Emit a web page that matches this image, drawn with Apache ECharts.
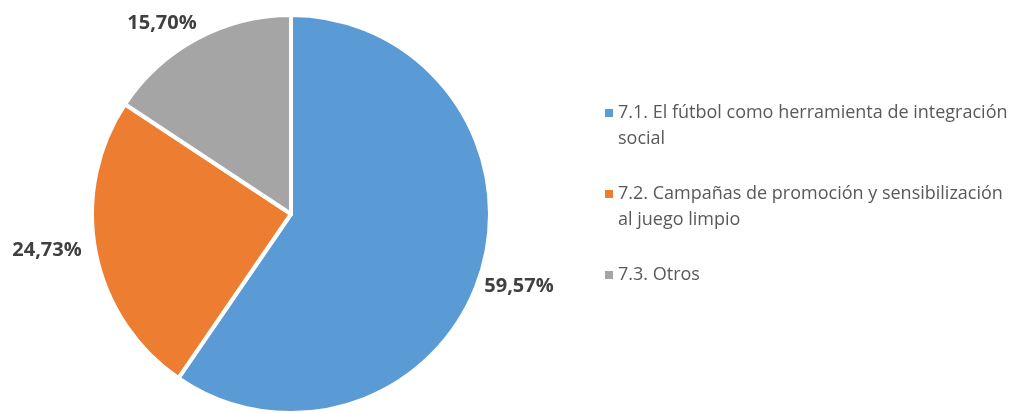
<!DOCTYPE html>
<html><head><meta charset="utf-8">
<script src="https://cdn.jsdelivr.net/npm/echarts@6/dist/echarts.min.js"></script>
<style>html,body{margin:0;padding:0;background:#fff}#c{width:1022px;height:412px}</style>
</head><body><div id="c"></div>
<script>
var categories = [
  '7.1. El fútbol como herramienta de integración social',
  '7.2. Campañas de promoción y sensibilización al juego limpio',
  '7.3. Otros'
];
var legendText = [
  '7.1. El fútbol como herramienta de integración\nsocial',
  '7.2. Campañas de promoción y sensibilización\nal juego limpio',
  '7.3. Otros'
];
var values = [59.57, 24.73, 15.70];
var labels = ['59,57%', '24,73%', '15,70%'];
var colors = ['#5B9BD5', '#ED7D31', '#A5A5A5'];

var labelPos = [
  {x: 519, y: 286},
  {x: 47, y: 250},
  {x: 162, y: 23}
];

function legendFmt(name) { return legendText[categories.indexOf(name)]; }
var legendTextStyle = {
  color: '#595959',
  fontSize: 18,
  fontFamily: 'Open Sans',
  lineHeight: 26
};
// square icon aligned with the first line of a two-line legend entry
var topSquareIcon = 'path://M0,0L0.001,0Z M0,9L8,9L8,17L0,17Z M0,52L0.001,52Z';

var chart = echarts.init(document.getElementById('c'));
chart.setOption({
  animation: false,
  color: colors,
  legend: [{
    orient: 'vertical',
    left: 600,
    top: 95,
    itemWidth: 8,
    itemHeight: 52,
    itemGap: 29,
    icon: topSquareIcon,
    itemStyle: {borderWidth: 0},
    formatter: legendFmt,
    textStyle: legendTextStyle,
    data: [categories[0], categories[1]]
  }, {
    orient: 'vertical',
    left: 600,
    top: 257,
    itemWidth: 8,
    itemHeight: 8,
    icon: 'rect',
    itemStyle: {borderWidth: 0},
    formatter: legendFmt,
    textStyle: legendTextStyle,
    data: [categories[2]]
  }],
  series: [{
    type: 'pie',
    center: [291, 214],
    radius: [0, 199],
    startAngle: 90,
    clockwise: true,
    itemStyle: {borderColor: '#fff', borderWidth: 4},
    label: {
      show: true,
      position: 'outside',
      formatter: function (p) { return labels[p.dataIndex]; },
      color: '#404040',
      fontSize: 20,
      fontWeight: 'bold',
      fontFamily: 'Open Sans',
      overflow: 'none',
      width: 200
    },
    labelLine: {show: false},
    labelLayout: function (p) {
      var pos = labelPos[p.dataIndex];
      return {x: pos.x, y: pos.y, align: 'center', verticalAlign: 'middle'};
    },
    data: categories.map(function (c, i) { return {name: c, value: values[i]}; })
  }]
});
</script>
</body></html>
